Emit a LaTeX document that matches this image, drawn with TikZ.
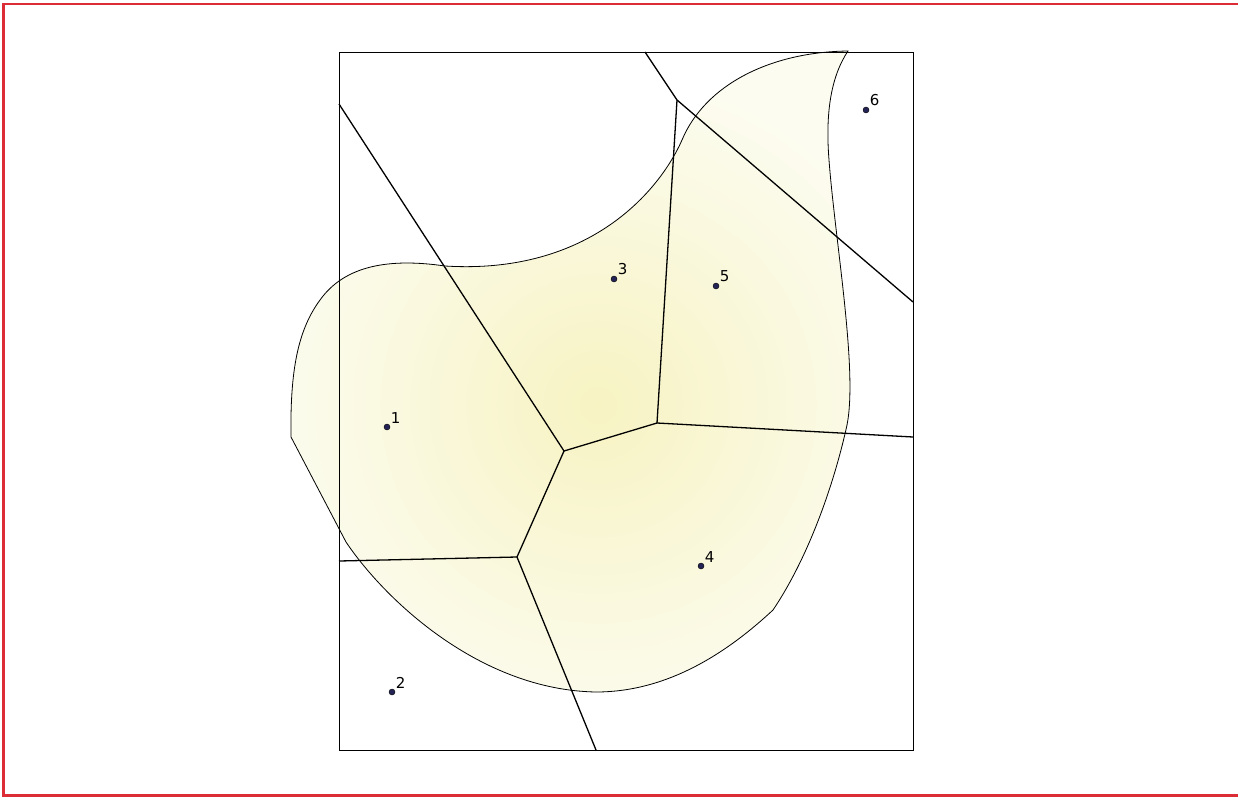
\documentclass[tikz,border=0pt]{standalone}
\usepackage{fontspec}
\setmainfont{DejaVu Sans}
\definecolor{frame}{RGB}{220,45,55}
\definecolor{blobin}{RGB}{247,243,195}
\definecolor{blobout}{RGB}{252,252,241}
\definecolor{sitefill}{RGB}{35,35,85}
\newcommand{\blobpath}{(291,437) -- (346,542)
        .. controls (385,600) and (480,690) .. (596,692)
        .. controls (670,692) and (730,650) .. (773,610)
        .. controls (810,555) and (835,480) .. (847,425)
        .. controls (858,370) and (835,240) .. (829,160)
        .. controls (825,110) and (832,75) .. (848,51)
        .. controls (770,52) and (705,85) .. (682,140)
        .. controls (660,190) and (590,275) .. (445,266)
        .. controls (390,258) and (345,265) .. (320,300)
        .. controls (298,330) and (290,370) .. (291,437) -- cycle}
\begin{document}
\begin{tikzpicture}[
    x=1pt, y=-1pt,
    site/.style={circle, draw=black, line width=0.4pt, fill=sitefill, inner sep=0pt, minimum size=6pt},
    lbl/.style={font=\fontsize{15}{17}\selectfont, inner sep=1.5pt},
    edge/.style={line width=1.3pt},
    box/.style={line width=0.8pt},
    blob/.style={line width=0.8pt}
]
    \useasboundingbox (0,0) rectangle (1238,797);

    % Outer frame
    \draw[frame, line width=2.5pt] (1245,4) -- (3.5,4) -- (3.5,795.5) -- (1245,795.5);

    % Region (shaded)
    \begin{scope}
        \clip \blobpath;
        \fill[blobout] (280,40) rectangle (870,700);
        \shade[inner color=blobin, outer color=blobout] (598,405) circle (340);
    \end{scope}
    \draw[blob] \blobpath;

    % Bounding box
    \draw[box] (339,52) rectangle (913,750);

    % Voronoi vertices
    \coordinate (v134) at (564,451);
    \coordinate (v345) at (657,423);
    \coordinate (v124) at (517,557);
    \coordinate (v356) at (677,100);

    % Ends on the box
    \coordinate (e13) at (339,104);
    \coordinate (e12) at (339,561);
    \coordinate (e24) at (596,750);
    \coordinate (e45) at (913,437);
    \coordinate (e35) at (645,52);
    \coordinate (e56) at (913,302);

    % Edges
    \draw[edge] (e13) -- (v134);
    \draw[edge] (v134) -- (v345);
    \draw[edge] (v134) -- (v124);
    \draw[edge] (v124) -- (e12);
    \draw[edge] (v124) -- (e24);
    \draw[edge] (v345) -- (e45);
    \draw[edge] (v345) -- (v356);
    \draw[edge] (v356) -- (e35);
    \draw[edge] (v356) -- (e56);

    % Sites
    \node[site, label={[lbl]above right:1}] (s1) at (387,427) {};
    \node[site, label={[lbl]above right:2}] (s2) at (392,692) {};
    \node[site, label={[lbl]above right:3}] (s3) at (614,279) {};
    \node[site, label={[lbl]above right:4}] (s4) at (701,566) {};
    \node[site, label={[lbl]above right:5}] (s5) at (716,286) {};
    \node[site, label={[lbl]above right:6}] (s6) at (866,110) {};

\end{tikzpicture}
\end{document}
